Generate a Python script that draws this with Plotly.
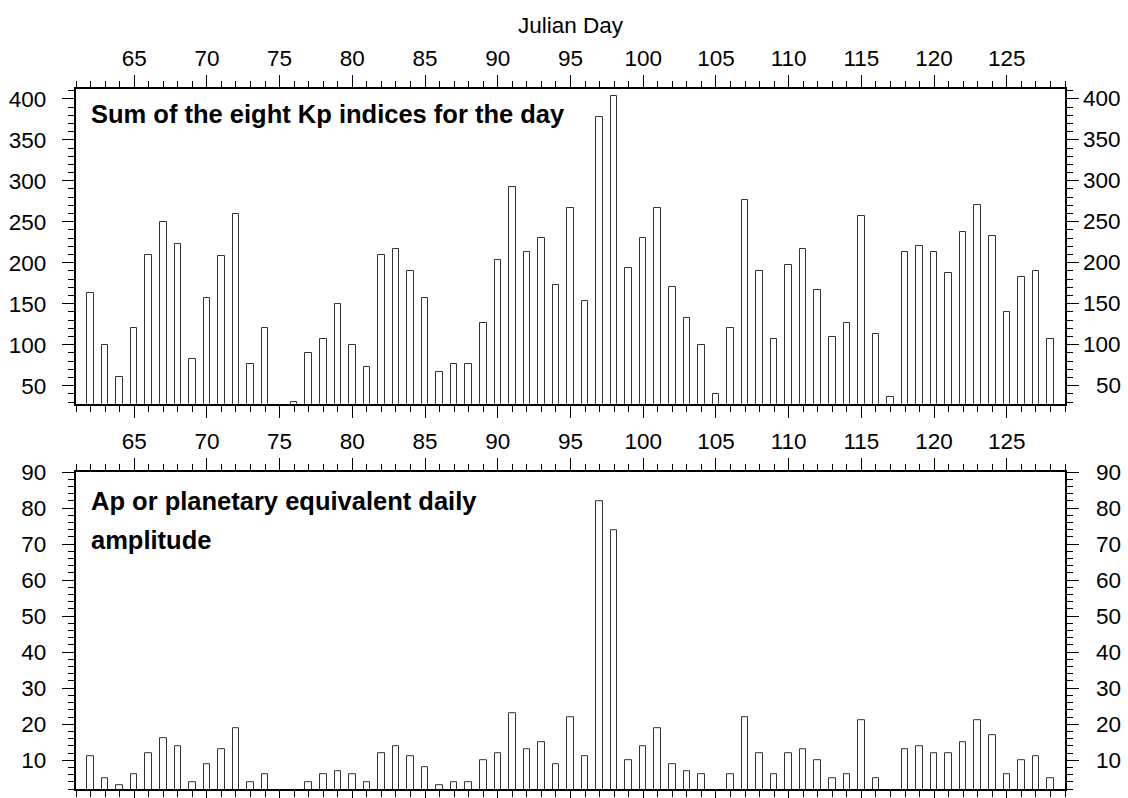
import plotly.graph_objects as go

days = list(range(62, 129))
kp_sum = [163, 100, 60, 120, 210, 250, 223, 83, 157, 208, 260, 77, 120, 20, 30,
          90, 107, 150, 100, 73, 210, 217, 190, 157, 67, 77, 77, 127, 203, 293,
          213, 230, 173, 267, 153, 378, 404, 193, 230, 267, 170, 133, 100, 40, 120,
          277, 190, 107, 197, 217, 167, 110, 127, 257, 113, 36, 213, 220, 213, 187,
          237, 270, 233, 140, 183, 190, 107]
ap = [11, 5, 3, 6, 12, 16, 14, 4, 9, 13, 19, 4, 6, 1, 1,
      4, 6, 7, 6, 4, 12, 14, 11, 8, 3, 4, 4, 10, 12, 23,
      13, 15, 9, 22, 11, 82, 74, 10, 14, 19, 9, 7, 6, 1, 6,
      22, 12, 6, 12, 13, 10, 5, 6, 21, 5, 1, 13, 14, 12, 12,
      15, 21, 17, 6, 10, 11, 5]
top_ticks = [50, 100, 150, 200, 250, 300, 350, 400]
bot_ticks = [10, 20, 30, 40, 50, 60, 70, 80, 90]
x_ticks = [65, 70, 75, 80, 85, 90, 95, 100, 105, 110, 115, 120, 125]

FONT = "Liberation Sans, Arial, sans-serif"
TICK_SIZE = 22.5

fig = go.Figure()
bar_style = dict(marker=dict(color="white", line=dict(color="#333333", width=1)),
                 width=0.45, showlegend=False, hoverinfo="x+y")
fig.add_trace(go.Bar(x=days, y=kp_sum, xaxis="x", yaxis="y", **bar_style))
fig.add_trace(go.Bar(x=days, y=ap, xaxis="x2", yaxis="y2", **bar_style))

def xaxis_cfg(anchor, title=None):
    d = dict(anchor=anchor, range=[61, 129], side="top",
             tickmode="array", tickvals=x_ticks, ticktext=[str(v) for v in x_ticks],
             ticks="outside", ticklen=12, tickwidth=1.3, tickcolor="black",
             minor=dict(dtick=1, tick0=61, ticks="outside", ticklen=6, tickwidth=1.3, tickcolor="black", showgrid=False),
             showline=True, linecolor="black", linewidth=2.2, mirror="ticks",
             showgrid=False, zeroline=False, automargin=False,
             tickfont=dict(family=FONT, size=TICK_SIZE, color="black"))
    if title:
        d["title"] = dict(text=title, font=dict(family=FONT, size=TICK_SIZE, color="black"), standoff=6)
    return d

def yaxis_cfg(domain, rng, ticks, minor_dt):
    return dict(domain=domain, range=rng, tickmode="array", tickvals=ticks,
                ticktext=[str(v) for v in ticks],
                ticks="outside", ticklen=12, tickwidth=1.3, tickcolor="black",
                ticklabelstandoff=11,
                minor=dict(dtick=minor_dt, tick0=0, ticks="outside", ticklen=6, tickwidth=1.3, tickcolor="black", showgrid=False),
                showline=True, linecolor="black", linewidth=2.2, mirror="ticks",
                showgrid=False, zeroline=False, automargin=False,
                tickfont=dict(family=FONT, size=TICK_SIZE, color="black"))

fig.update_layout(
    width=1128, height=798,
    margin=dict(l=76, r=63, t=89, b=9, autoexpand=False),
    paper_bgcolor="white", plot_bgcolor="white",
    bargap=0,
    xaxis=xaxis_cfg("y", "Julian Day"),
    yaxis=yaxis_cfg([0.5504, 1.0], [28, 412], top_ticks, 10),
    xaxis2=xaxis_cfg("y2"),
    yaxis2=yaxis_cfg([0.0, 0.4526], [2, 90], bot_ticks, 2),
    font=dict(family=FONT, color="black"),
)

def px_y(py):
    return (789.3 - py) / 700

ann = []
title_font = dict(family=FONT, size=25.5, color="black")
ax = (89 - 76) / 989.3
ann.append(dict(text="<b>Sum of the eight Kp indices for the day</b>", xref="paper", yref="paper",
                x=ax, y=px_y(114), xanchor="left", yanchor="middle",
                showarrow=False, align="left", font=title_font))
ann.append(dict(text="<b>Ap or planetary equivalent daily</b>", xref="paper", yref="paper",
                x=ax, y=px_y(501), xanchor="left", yanchor="middle",
                showarrow=False, align="left", font=title_font))
ann.append(dict(text="<b>amplitude</b>", xref="paper", yref="paper",
                x=ax, y=px_y(540), xanchor="left", yanchor="middle",
                showarrow=False, align="left", font=title_font))
xr = (1123 - 76) / 989.3
for v in top_ticks:
    ann.append(dict(text=str(v), xref="paper", yref="y", x=xr, y=v, xanchor="right", yanchor="middle",
                    showarrow=False, font=dict(family=FONT, size=TICK_SIZE, color="black")))
for v in bot_ticks:
    ann.append(dict(text=str(v), xref="paper", yref="y2", x=xr, y=v, xanchor="right", yanchor="middle",
                    showarrow=False, font=dict(family=FONT, size=TICK_SIZE, color="black")))
fig.update_layout(annotations=ann)

fig.write_html("out.html")
